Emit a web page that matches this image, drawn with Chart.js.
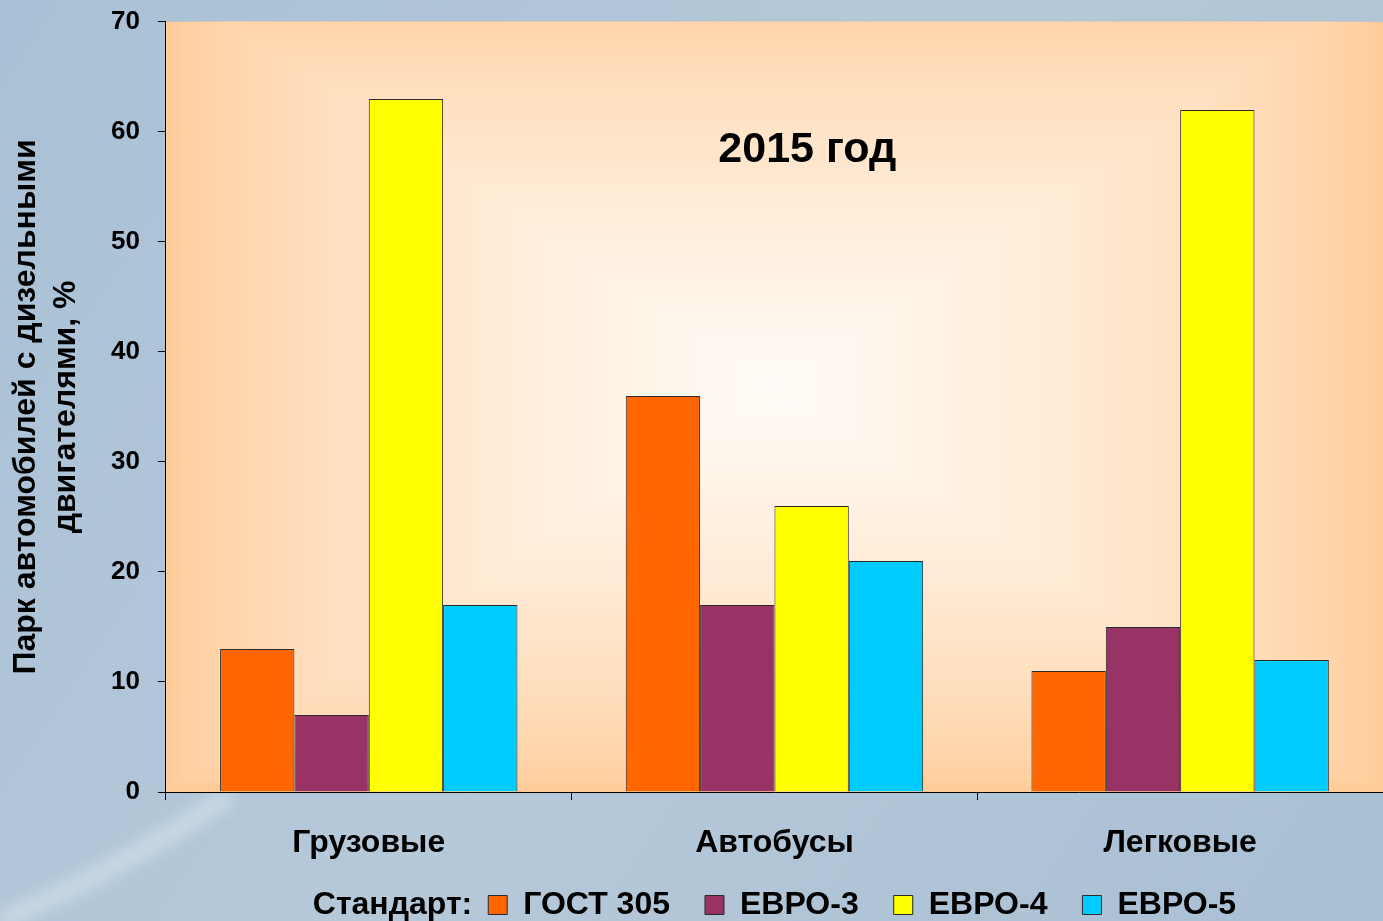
<!DOCTYPE html>
<html>
<head>
<meta charset="utf-8">
<script src="https://cdn.jsdelivr.net/npm/chart.js@4.4.0/dist/chart.umd.min.js"></script>
<style>
  html, body { margin: 0; padding: 0; }
  #wrap { width: 1383px; height: 921px; }
</style>
</head>
<body>
<div id="wrap"><canvas id="myChart-diesel"></canvas></div>
<script>
// данные 2015 год
const categories = ['Грузовые', 'Автобусы', 'Легковые'];
const standards = ['ГОСТ 305', 'ЕВРО-3', 'ЕВРО-4', 'ЕВРО-5'];
const gost305 = [13, 36, 11];
const euro3 = [7, 17, 15];
const euro4 = [63, 26, 62];
const euro5 = [17, 21, 12];
const yTicks = [0, 10, 20, 30, 40, 50, 60, 70];

const colors = ['#FF6600', '#993366', '#FFFF00', '#00CCFF'];
const values = [gost305, euro3, euro4, euro5];
const fontFam = '"Liberation Sans", Arial, sans-serif';
const captionText = 'Стандарт:';

// фон слайда и заливка области построения
const backdrop = {
    id: 'backdrop',
    beforeDraw(chart) {
        const c = chart.ctx;
        const w = chart.width, h = chart.height;
        c.save();
        const g = c.createLinearGradient(0, 0, w, h);
        g.addColorStop(0, '#a9c0d6');
        g.addColorStop(0.5, '#b6c9d9');
        g.addColorStop(1, '#a9bfd4');
        c.fillStyle = g;
        c.fillRect(0, 0, w, h);
        // светлая полоса слева снизу
        c.strokeStyle = 'rgba(235,242,245,0.45)';
        c.lineWidth = 18;
        c.filter = 'blur(8px)';
        c.beginPath();
        c.moveTo(0, 921);
        c.quadraticCurveTo(120, 870, 230, 795);
        c.stroke();
        c.filter = 'none';

        const a = chart.chartArea;
        const cx = (a.left + a.right) / 2, cy = (a.top + a.bottom) / 2 - 20;
        const hw = (a.right - a.left) / 2, hh = (a.bottom - a.top) / 2 + 20;
        const steps = 80;
        for (let i = 0; i < steps; i++) {
            const t = i / steps;
            const k = 1 - t;
            const gg = Math.round(204 + (252 - 204) * Math.pow(t, 0.7));
            const b = Math.round(153 + (248 - 153) * Math.pow(t, 0.7));
            c.fillStyle = `rgb(255,${gg},${b})`;
            const x0 = Math.max(a.left, cx - hw * k), y0 = Math.max(a.top, cy - hh * k);
            const x1 = Math.min(a.right, cx + hw * k), y1 = Math.min(a.bottom, cy + hh * k);
            c.fillRect(x0, y0, x1 - x0, y1 - y0);
        }
        c.restore();
    }
};

// надпись "2015 год" внутри области
const yearLabel = {
    id: 'yearLabel',
    afterDatasetsDraw(chart) {
        const c = chart.ctx;
        const a = chart.chartArea;
        c.save();
        c.font = 'bold 43px ' + fontFam;
        c.fillStyle = '#000';
        c.textAlign = 'center';
        c.textBaseline = 'middle';
        c.fillText('2015 год', a.left + (a.right - a.left) * 0.527, 150);
        c.restore();
    }
};

// подпись "Стандарт:" перед легендой, легенда сдвигается вправо
const legendCaption = {
    id: 'legendCaption',
    afterLayout(chart) {
        const c = chart.ctx;
        c.save();
        c.font = 'bold 32px ' + fontFam;
        const shift = (c.measureText(captionText).width + 16) / 2;
        c.restore();
        chart.legend.left += shift;
        chart.legend.right += shift;
        chart.legend.top -= 8;
        chart.legend.bottom -= 8;
    },
    afterDraw(chart) {
        const boxes = chart.legend.legendHitBoxes;
        if (!boxes || !boxes.length) return;
        const c = chart.ctx;
        c.save();
        c.font = 'bold 32px ' + fontFam;
        c.fillStyle = '#000';
        c.textAlign = 'right';
        c.textBaseline = 'middle';
        c.fillText(captionText, boxes[0].left - 16, boxes[0].top + boxes[0].height / 2);
        c.restore();
    }
};

const ctx1 = document.getElementById('myChart-diesel').getContext('2d');
const myChart1 = new Chart(ctx1, {
    type: 'bar',
    data: {
        labels: categories,
        datasets: standards.map((name, i) => ({
            label: name,
            data: values[i],
            backgroundColor: colors[i],
            borderColor: '#2a2a2a',
            borderWidth: 1,
            barPercentage: 1,
            categoryPercentage: 0.733
        }))
    },
    options: {
        responsive: true,
        maintainAspectRatio: false,
        animation: false,
        layout: { padding: { top: 0, right: 0, bottom: -18, left: 6 } },
        scales: {
            x: {
                afterFit(scale) { scale.height = 70; },
                grid: { display: true, drawOnChartArea: false, tickLength: 8, color: '#000' },
                border: { color: '#000', width: 1 },
                ticks: {
                    color: '#000',
                    font: { family: fontFam, size: 32, weight: 'bold' },
                    padding: 24
                }
            },
            y: {
                min: 0,
                max: 70,
                afterBuildTicks(axis) { axis.ticks = yTicks.map(v => ({ value: v })); },
                grid: { display: true, drawOnChartArea: false, tickLength: 8, color: '#000' },
                border: { color: '#000', width: 1 },
                ticks: {
                    color: '#000',
                    font: { family: fontFam, size: 26, weight: 'bold', lineHeight: 0.3 },
                    padding: 18
                },
                title: {
                    display: true,
                    text: ['Парк автомобилей с дизельными', 'двигателями, %'],
                    color: '#000',
                    font: { family: fontFam, size: 32, weight: 'bold', lineHeight: 1.25 },
                    padding: { top: 0, bottom: 7 }
                }
            }
        },
        plugins: {
            legend: {
                position: 'bottom',
                fullSize: false,
                labels: {
                    color: '#000',
                    boxWidth: 19,
                    boxHeight: 19,
                    padding: 35,
                    font: { family: fontFam, size: 32, weight: 'bold' }
                }
            },
            tooltip: { enabled: false }
        }
    },
    plugins: [backdrop, yearLabel, legendCaption]
});
</script>
</body>
</html>
